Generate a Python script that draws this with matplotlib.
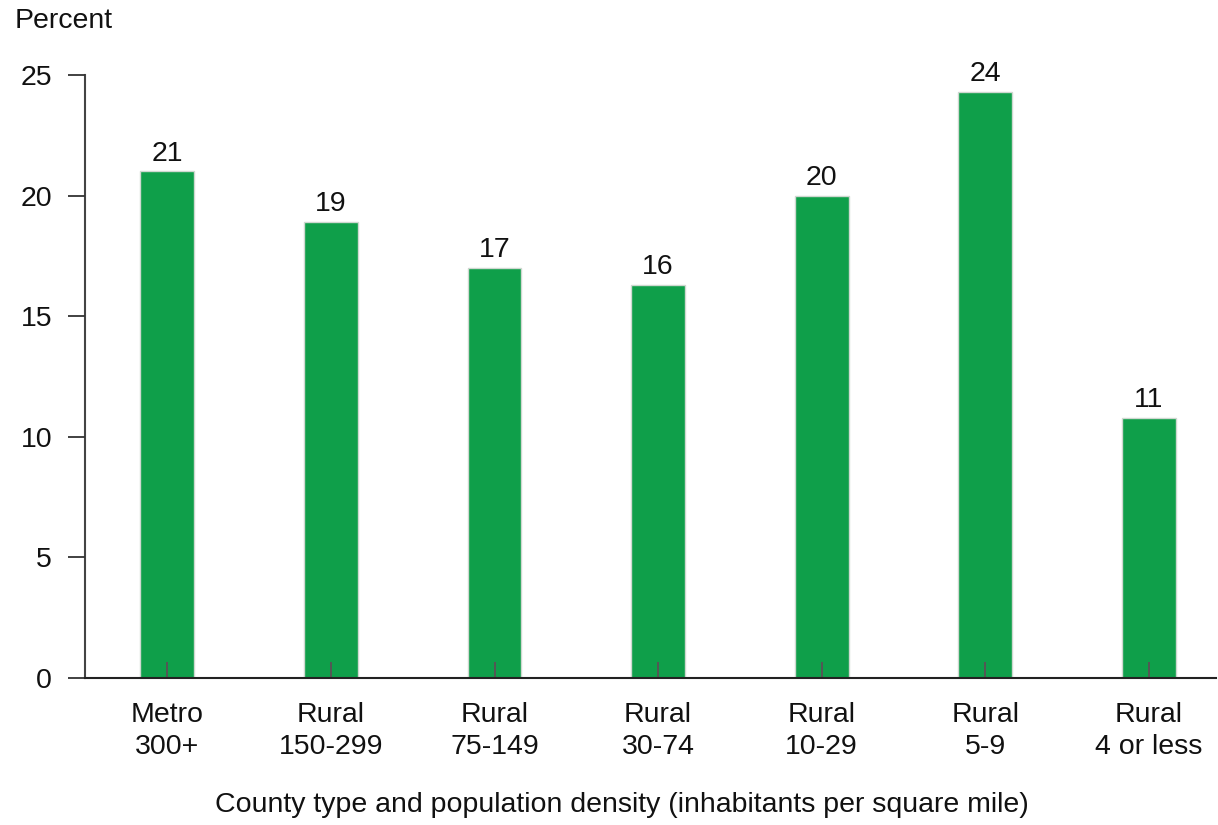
import matplotlib
matplotlib.use("Agg")
import matplotlib.pyplot as plt

categories = ["Metro\n300+", "Rural\n150-299", "Rural\n75-149", "Rural\n30-74",
              "Rural\n10-29", "Rural\n5-9", "Rural\n4 or less"]
values = [21.0, 18.9, 17.0, 16.3, 20.0, 24.3, 10.8]
yticks = [0, 5, 10, 15, 20, 25]

plt.rcParams["font.family"] = ["Liberation Sans", "DejaVu Sans"]
FS = 20.5

fig = plt.figure(figsize=(12.18, 8.25), dpi=100)
ax = fig.add_axes([85 / 1218, 1 - 678 / 825, (1216 - 85) / 1218, (678 - 75) / 825])
ax.set_axisbelow(False)

x = list(range(len(categories)))
ax.bar(x, values, width=0.33, color="#0f9f4a", edgecolor="#cfd8d0", linewidth=1.0, zorder=2)

for xi, v in zip(x, values):
    ax.text(xi, v + 0.2, f"{v:.0f}", ha="center", va="bottom", fontsize=FS, color="#111111")

ax.set_xlim(-0.503, 6.41)
ax.set_ylim(0, 25)
ax.set_yticks(yticks)
ax.set_yticklabels([str(t) for t in yticks], fontsize=FS, color="#111111")
ax.set_xticks(x)
ax.set_xticklabels(categories, fontsize=FS, color="#111111", linespacing=1.27)

ax.tick_params(axis="y", direction="out", length=12.2, width=1.3, color="#333333", pad=11.5)
ax.tick_params(axis="x", direction="in", length=11.5, width=1.4, color="#555555", pad=17.5)

for side in ["top", "right"]:
    ax.spines[side].set_visible(False)
ax.spines["left"].set_color("#444444")
ax.spines["left"].set_linewidth(1.5)
ax.spines["bottom"].set_color("#222222")
ax.spines["bottom"].set_linewidth(1.5)
ax.spines["bottom"].set_zorder(4)

fig.text(15 / 1218, 1 - 21 / 825, "Percent", fontsize=FS, va="center", ha="left", color="#111111")
fig.text(622 / 1218, 1 - 805 / 825,
         "County type and population density (inhabitants per square mile)",
         fontsize=FS, va="center", ha="center", color="#111111")

fig.savefig("out.png", dpi=100, facecolor="white")
